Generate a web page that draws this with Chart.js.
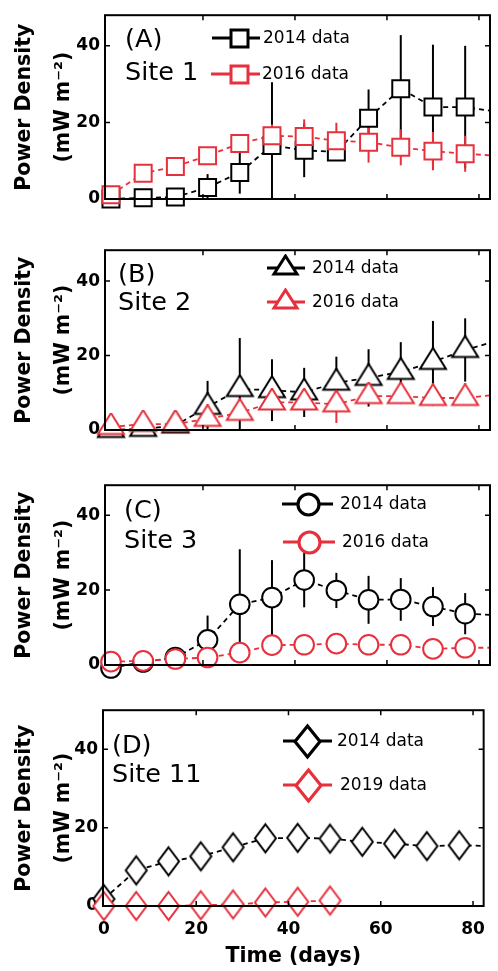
<!DOCTYPE html>
<html><head><meta charset="utf-8">
<script src="https://cdn.jsdelivr.net/npm/chart.js@4.4.1/dist/chart.umd.min.js"></script>
<style>
html,body{margin:0;padding:0;background:#fff;width:498px;height:971px;overflow:hidden}
.p{position:absolute;left:0;width:498px}
canvas{display:block}
</style></head>
<body>
<div class="p" style="top:0px"><canvas id="cA" width="498" height="235"></canvas></div>
<div class="p" style="top:235px"><canvas id="cB" width="498" height="235"></canvas></div>
<div class="p" style="top:470px"><canvas id="cC" width="498" height="225"></canvas></div>
<div class="p" style="top:695px"><canvas id="cD" width="498" height="276"></canvas></div>
<script>
// ---------------- data ----------------
const days = [0, 7, 14, 21, 28, 35, 42, 49, 56, 63, 70, 77, 84];
const days2019 = [0, 7, 14, 21, 28, 35, 42, 49];

const site1_2014     = [0, 0.3, 0.5, 3.0, 6.9, 14.0, 12.7, 12.3, 21.1, 28.8, 24.0, 24.0, 22.8];
const site1_2014_err = [0.5, 0.5, 0.5, 3.5, 5.5, 16.5, 7.0, 2.0, 7.5, 14.0, 16.3, 16.0, 16.0];
const site1_2016     = [1.1, 6.7, 8.5, 11.3, 14.5, 16.5, 16.3, 15.2, 14.8, 13.5, 12.5, 11.8, 11.3];
const site1_2016_err = [0.5, 1.5, 1.5, 1.5, 2.2, 3.0, 4.5, 4.7, 5.3, 4.7, 5.0, 4.7, 4.7];

const site2_2014     = [0, 0.3, 1.2, 6.2, 11.0, 10.7, 10.1, 12.7, 14.0, 15.6, 18.3, 21.5, 24.0];
const site2_2014_err = [0.3, 0.3, 0.3, 7.0, 13.7, 8.3, 6.6, 7.0, 7.7, 8.0, 11.0, 8.5, 8.5];
const site2_2016     = [0.8, 1.6, 1.6, 3.0, 4.6, 7.4, 7.4, 6.9, 9.1, 9.1, 8.6, 8.6, 9.5];
const site2_2016_err = [0.5, 0.5, 0.5, 1.2, 1.8, 2.0, 2.0, 5.0, 2.0, 2.0, 2.0, 1.5, 1.5];

const site3_2014     = [-0.8, 0.8, 2.0, 6.7, 16.2, 18.0, 22.7, 19.9, 17.4, 17.5, 15.6, 13.7, 13.3];
const site3_2014_err = [0.5, 0.5, 0.8, 6.5, 14.7, 10.0, 7.3, 4.7, 6.4, 5.7, 5.2, 5.5, 5.5];
const site3_2016     = [0.9, 1.1, 1.6, 2.0, 3.3, 5.3, 5.4, 5.7, 5.4, 5.4, 4.3, 4.6, 4.6];
const site3_2016_err = [0.3, 0.3, 0.5, 0.8, 1.0, 2.0, 2.0, 2.0, 2.0, 2.0, 2.0, 2.0, 2.0];

const site11_2014     = [1.8, 9.1, 11.4, 12.7, 15.0, 17.3, 17.4, 17.2, 16.4, 15.9, 15.3, 15.5, 15.3];
const site11_2014_err = [1.0, 2.5, 2.5, 2.0, 2.5, 2.0, 2.0, 2.0, 2.0, 2.0, 2.0, 2.0, 2.0];
const site11_2019     = [0, 0, 0, 0.2, 0.4, 0.9, 1.1, 1.4];
const site11_2019_err = [0.3, 0.3, 0.3, 0.3, 0.3, 0.3, 0.3, 0.3];

const yTicks = [0, 20, 40];
const xTicksABC = [20, 40, 60, 80];
const xTicksD = [0, 20, 40, 60, 80];
const legendLabels = ['2014 data', '2016 data'];
const legendLabelsD = ['2014 data', '2019 data'];
const yTitle = ['Power Density', '(mW m\u207B\u00B2)'];
const xTitle = 'Time (days)';

// ---------------- style ----------------
const BLACK = '#000000';
const RED = '#e6303c';
const FONT = 'DejaVu Sans';

function marker(shape, color, w, h, lw) {
  const pad = Math.ceil(lw) + 2;
  const c = document.createElement('canvas');
  c.width = Math.ceil(w + 2 * pad); c.height = Math.ceil(h + 2 * pad);
  const g = c.getContext('2d');
  const cx = c.width / 2, cy = c.height / 2;
  g.beginPath();
  if (shape === 'square') g.rect(cx - w / 2, cy - h / 2, w, h);
  else if (shape === 'circle') g.ellipse(cx, cy, w / 2, h / 2, 0, 0, 2 * Math.PI);
  else if (shape === 'triangle') { g.moveTo(cx, cy - h * 2 / 3); g.lineTo(cx + w / 2, cy + h / 3); g.lineTo(cx - w / 2, cy + h / 3); g.closePath(); }
  else if (shape === 'diamond') { g.moveTo(cx, cy - h / 2); g.lineTo(cx + w / 2, cy); g.lineTo(cx, cy + h / 2); g.lineTo(cx - w / 2, cy); g.closePath(); }
  g.fillStyle = '#fff'; g.fill();
  g.lineWidth = lw; g.strokeStyle = color; g.stroke();
  return c;
}
// builtin: use Chart.js vector point styles (crisper); otherwise an image marker
const SHAPES = {
  square:   {builtin: 'rect', radius: 12, bw: 2, lg: {w: 17, h: 17, lw: 3}},
  triangle: {w: 26, h: 21, lw: 2, lg: {w: 23, h: 18, lw: 3}},
  circle:   {builtin: 'circle', radius: 9.8, bw: 2, lg: {w: 21, h: 21, lw: 3.2}},
  diamond:  {w: 21, h: 28, lw: 2, lg: {w: 25, h: 31, lw: 3.2}}
};

const decoPlugin = {
  id: 'deco',
  beforeDatasetsDraw(chart) {
    const ctx = chart.ctx;
    const xs = chart.scales.x, ys = chart.scales.y;
    ctx.save();
    ctx.lineWidth = 2;
    chart.data.datasets.forEach(ds => {
      ctx.strokeStyle = ds.borderColor;
      ds.data.forEach((p, i) => {
        if (p.x > xs.max) return;
        const e = ds.errors[i];
        const top = Math.min(p.y + e, ys.max), bot = Math.max(p.y - e, ys.min);
        if (top <= bot) return;
        const px = xs.getPixelForValue(p.x);
        ctx.beginPath();
        ctx.moveTo(px, ys.getPixelForValue(top));
        ctx.lineTo(px, ys.getPixelForValue(bot));
        ctx.stroke();
      });
    });
    ctx.restore();
  },
  afterDraw(chart) {
    const cfg = chart.options.plugins.deco;
    const ctx = chart.ctx, a = chart.chartArea;
    const xs = chart.scales.x, ys = chart.scales.y;
    ctx.save();
    ctx.strokeStyle = '#000'; ctx.lineWidth = 2;
    ctx.strokeRect(a.left, a.top, a.right - a.left, a.bottom - a.top);
    ctx.lineWidth = 1.5;
    const tl = 5;
    ys.ticks.forEach(t => {
      const py = ys.getPixelForValue(t.value);
      if (py <= a.top + 1 || py >= a.bottom - 1) return;
      ctx.beginPath();
      ctx.moveTo(a.left, py); ctx.lineTo(a.left + tl, py);
      ctx.moveTo(a.right, py); ctx.lineTo(a.right - tl, py);
      ctx.stroke();
    });
    xs.ticks.forEach(t => {
      const px = xs.getPixelForValue(t.value);
      if (px <= a.left + 1 || px >= a.right - 1) return;
      ctx.beginPath();
      ctx.moveTo(px, a.bottom); ctx.lineTo(px, a.bottom - tl);
      ctx.moveTo(px, a.top); ctx.lineTo(px, a.top + tl);
      ctx.stroke();
    });
    ctx.fillStyle = '#000';
    ctx.font = '25.5px "' + FONT + '"';
    ctx.textAlign = 'left'; ctx.textBaseline = 'alphabetic';
    ctx.fillText(cfg.tag, cfg.tagX, cfg.tagY);
    ctx.fillText(cfg.site, cfg.tagX, cfg.siteY);
    ctx.font = '17px "' + FONT + '"';
    ctx.textBaseline = 'middle';
    chart.data.datasets.slice().sort((p, q) => p.legendIndex - q.legendIndex).forEach((ds, k) => {
      const L = cfg.legend[k];
      ctx.strokeStyle = ds.borderColor; ctx.lineWidth = 3.2; ctx.setLineDash([]);
      ctx.beginPath(); ctx.moveTo(L.x1, L.y); ctx.lineTo(L.x2, L.y); ctx.stroke();
      const m = ds.legendMarker;
      ctx.drawImage(m, Math.round(L.mx - m.width / 2), Math.round(L.y - m.height / 2));
      ctx.fillStyle = '#000';
      ctx.fillText(ds.label, L.tx, L.y + 1);
    });
    ctx.restore();
  }
};

function makeChart(id, cfg) {
  const S = SHAPES[cfg.shape];
  const series = cfg.series.map((s, k) => ({
    label: s.label,
    legendIndex: k,
    data: s.x.map((x, i) => ({x: x, y: s.y[i]})),
    errors: s.err,
    borderColor: s.color,
    borderWidth: 1.8,
    borderDash: [5, 4],
    pointStyle: S.builtin ? S.builtin : marker(cfg.shape, s.color, S.w, S.h, S.lw),
    pointBackgroundColor: '#ffffff',
    pointBorderColor: s.color,
    pointBorderWidth: S.builtin ? S.bw : 0,
    legendMarker: marker(cfg.shape, s.color, S.lg.w, S.lg.h, S.lg.lw),
    pointRadius: c => (c.raw && c.raw.x > cfg.xMax) ? 0 : (S.builtin ? S.radius : 10),
    pointHoverRadius: 10,
    fill: false,
    tension: 0,
    clip: {left: false, top: false, right: 0, bottom: false},
    order: k === 0 ? 1 : 0
  }));
  const tickFont = {family: FONT, size: 17, weight: 'bold'};
  return new Chart(document.getElementById(id), {
    type: 'line',
    data: {datasets: series},
    options: {
      responsive: false,
      animation: false,
      events: [],
      layout: {autoPadding: false, padding: {top: cfg.padTop, right: cfg.padRight, left: 0, bottom: 0}},
      plugins: {legend: {display: false}, tooltip: {enabled: false}, deco: cfg},
      scales: {
        x: {
          type: 'linear', min: cfg.xMin, max: cfg.xMax,
          afterBuildTicks: s => { s.ticks = cfg.xTicks.map(v => ({value: v})); },
          afterFit: s => { s.height = cfg.xHeight; },
          grid: {display: false, drawTicks: false},
          border: {display: false},
          ticks: {display: cfg.showX, font: tickFont, color: '#000', padding: 13, maxRotation: 0, autoSkip: false},
          title: {display: cfg.showX, text: xTitle, color: '#000',
                  font: {family: FONT, size: 20.5, weight: 'bold', lineHeight: 1.2}, padding: {top: 0, bottom: 2}}
        },
        y: {
          type: 'linear', min: 0, max: cfg.yMax,
          afterBuildTicks: s => { s.ticks = yTicks.map(v => ({value: v})); },
          afterFit: s => { s.width = cfg.left; },
          grid: {display: false, drawTicks: false},
          border: {display: false},
          ticks: {font: tickFont, color: '#000', padding: 5},
          title: {display: true, text: yTitle, color: '#000',
                  font: {family: FONT, size: 20.5, weight: 'bold', lineHeight: '39px'}, padding: {top: 5, bottom: 0}}
        }
      }
    },
    plugins: [decoPlugin]
  });
}

makeChart('cA', {
  shape: 'square', padTop: 14, padRight: 8, left: 105, xHeight: 36, xMin: -1.3, xMax: 82.4, yMax: 48,
  xTicks: xTicksABC, showX: false,
  tag: '(A)', site: 'Site 1', tagX: 125, tagY: 47, siteY: 80,
  legend: [{y: 38, x1: 212, x2: 260, mx: 239, tx: 263}, {y: 74, x1: 211, x2: 260, mx: 239, tx: 262}],
  series: [
    {label: legendLabels[0], x: days, y: site1_2014, err: site1_2014_err, color: BLACK},
    {label: legendLabels[1], x: days, y: site1_2016, err: site1_2016_err, color: RED}
  ]
});
makeChart('cB', {
  shape: 'triangle', padTop: 9, padRight: 8, left: 105, xHeight: 40, xMin: -1.3, xMax: 82.4, yMax: 48.3,
  xTicks: xTicksABC, showX: false,
  tag: '(B)', site: 'Site 2', tagX: 118, tagY: 282 - 235, siteY: 310 - 235,
  legend: [{y: 268 - 235, x1: 267, x2: 305, mx: 285, tx: 312}, {y: 302 - 235, x1: 267, x2: 305, mx: 285, tx: 312}],
  series: [
    {label: legendLabels[0], x: days, y: site2_2014, err: site2_2014_err, color: BLACK},
    {label: legendLabels[1], x: days, y: site2_2016, err: site2_2016_err, color: RED}
  ]
});
makeChart('cC', {
  shape: 'circle', padTop: 11, padRight: 8, left: 105, xHeight: 30, xMin: -1.3, xMax: 82.4, yMax: 48,
  xTicks: xTicksABC, showX: false,
  tag: '(C)', site: 'Site 3', tagX: 124, tagY: 518 - 470, siteY: 548 - 470,
  legend: [{y: 504 - 470, x1: 282, x2: 333, mx: 308, tx: 340}, {y: 542 - 470, x1: 283, x2: 335, mx: 309, tx: 342}],
  series: [
    {label: legendLabels[0], x: days, y: site3_2014, err: site3_2014_err, color: BLACK},
    {label: legendLabels[1], x: days, y: site3_2016, err: site3_2016_err, color: RED}
  ]
});
makeChart('cD', {
  shape: 'diamond', padTop: 15, padRight: 5, left: 103, xHeight: 65, xMin: -0.2, xMax: 82.3, yMax: 50,
  xTicks: xTicksD, showX: true,
  tag: '(D)', site: 'Site 11', tagX: 112, tagY: 753 - 695, siteY: 782 - 695,
  legend: [{y: 741 - 695, x1: 283, x2: 332, mx: 307, tx: 337}, {y: 785 - 695, x1: 283, x2: 332, mx: 308, tx: 340}],
  series: [
    {label: legendLabelsD[0], x: days, y: site11_2014, err: site11_2014_err, color: BLACK},
    {label: legendLabelsD[1], x: days2019, y: site11_2019, err: site11_2019_err, color: RED}
  ]
});
</script>
</body></html>
